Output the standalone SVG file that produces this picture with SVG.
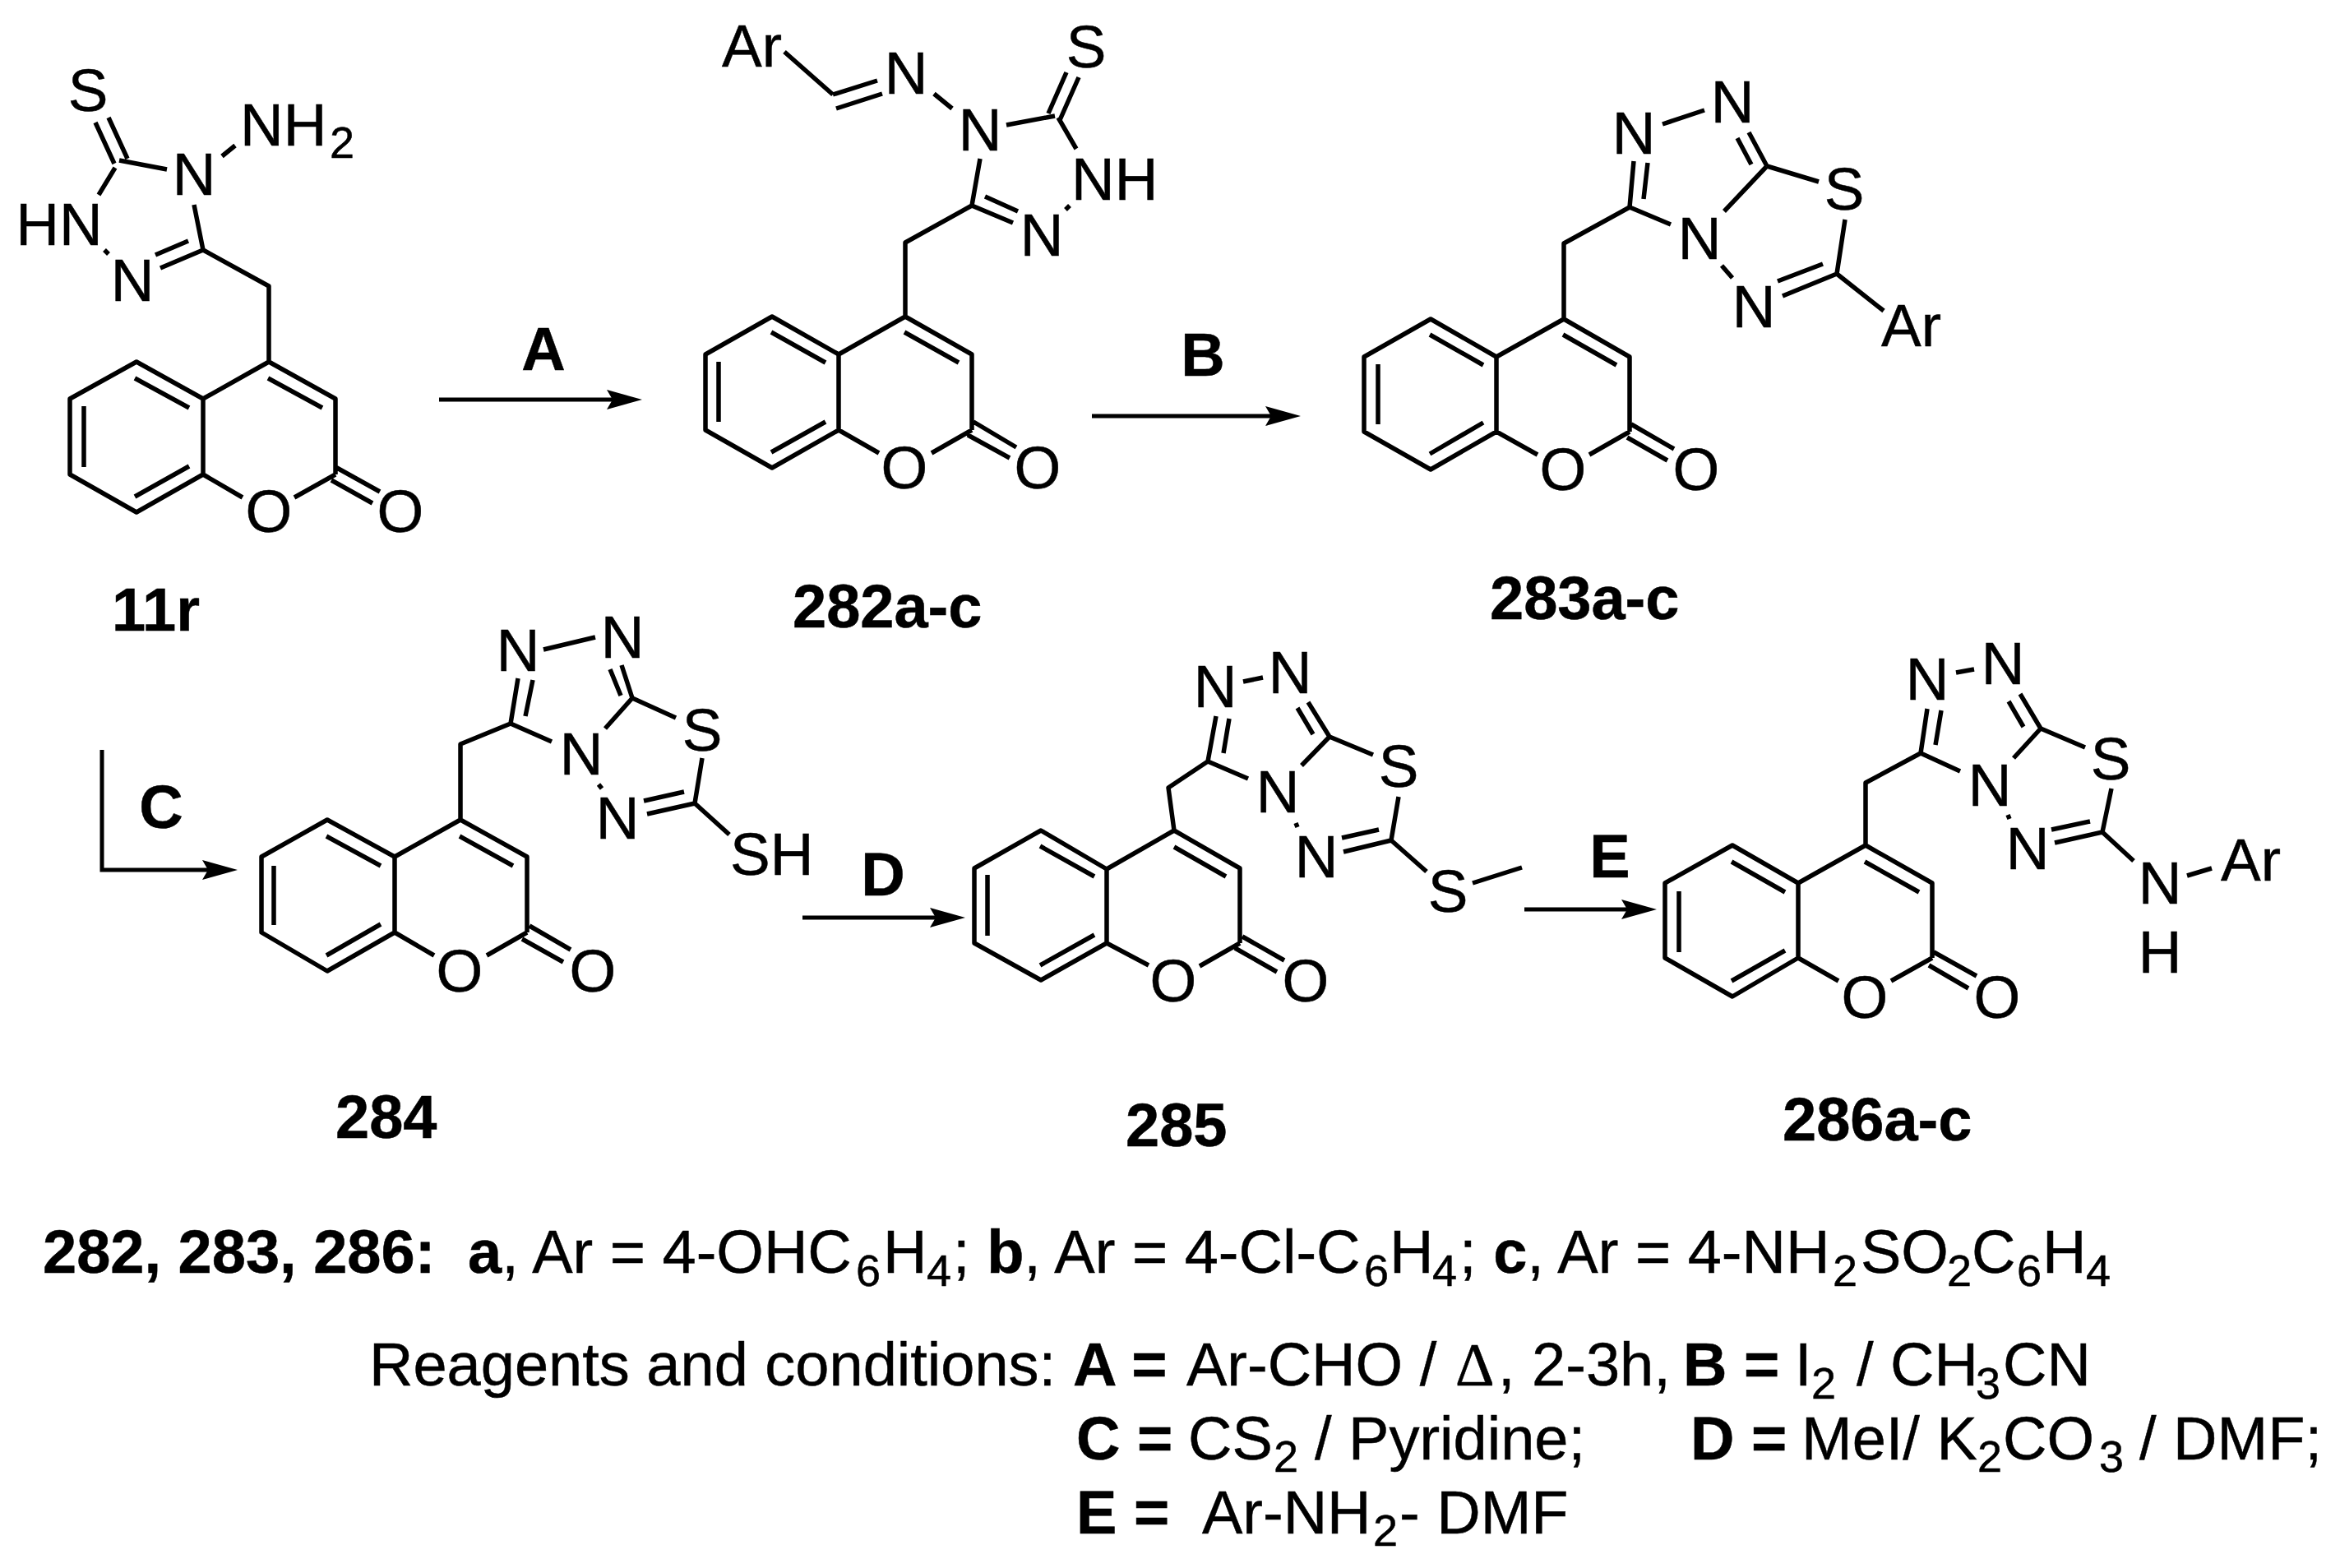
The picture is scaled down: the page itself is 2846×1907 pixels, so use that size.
<svg xmlns="http://www.w3.org/2000/svg" width="2846" height="1907" viewBox="0 0 2846 1907">
<style>
.b{fill:none;stroke:#000;stroke-width:5.5;stroke-linejoin:round;stroke-linecap:butt}
.arrow{fill:none;stroke:#000;stroke-width:5;marker-end:url(#head)}
text{font-family:"Liberation Sans",Arial,sans-serif;fill:#000;stroke:#000;stroke-width:.5}
.a{font-size:73px;text-anchor:middle}
.as{font-size:73px}
.sub{font-size:54px}
.lab{font-size:74px;font-weight:bold}
.r{font-size:74px}
.bd{font-weight:bold}
.d{font-family:"Liberation Serif",serif}
</style>
<defs>
<marker id="head" markerUnits="userSpaceOnUse" markerWidth="44" markerHeight="26" viewBox="0 0 43 26" refX="7" refY="13" orient="auto"><path d="M0 1L43 13L0 25L7 13Z" fill="#000"/></marker>
</defs>
<rect width="2846" height="1907" fill="#fff"/>
<g id="connectors">
<path class="arrow" d="M534 486H745"/>
<path class="arrow" d="M1328 506H1546"/>
<path class="arrow" d="M124 912V1058H253"/>
<path class="arrow" d="M976 1116H1138"/>
<path class="arrow" d="M1854 1106H1979"/>
</g>
<g id="reagent-labels">
<text class="lab" text-anchor="middle" x="661" y="450">A</text>
<text class="lab" text-anchor="middle" x="1463" y="457">B</text>
<text class="lab" text-anchor="middle" x="196" y="1007">C</text>
<text class="lab" text-anchor="middle" x="1074" y="1089">D</text>
<text class="lab" text-anchor="middle" x="1958" y="1067">E</text>
</g>
<g id="mol-11r">
<path class="b" d="M166 440L247 485V577L166 623L85 577V485ZM247 485L327 440L408 485V577M247 577L295 605M358 605L408 577M408 568L462 598M403 584L453 612M164 460L230 496M102 494V568M164 604L230 567M326 460L392 496M327 440V348L247 304L236 249M247 304L195 326M229 293L189 310M127 304L132 309M140 204L120 237M145 195L203 206M116 149L139 199M132 143L155 193M270 190L286 177"/>
<text class="a" x="327" y="647">O</text><text class="a" x="487" y="647">O</text>
<text class="a" x="236" y="237">N</text><text class="a" x="161" y="366">N</text>
<text class="a" x="72" y="298">HN</text><text class="a" x="107" y="135">S</text>
<text class="as" x="292" y="177">NH<tspan class="sub" x="401" y="192">2</tspan></text>
<text class="lab" x="136" y="767">11r</text>
</g>
<g id="mol-282">
<path class="b" d="M939 385L1020 431V523L939 569L858 523V431ZM1020 431L1101 385L1182 431V523M1020 523L1069 551M1133 551L1182 523M1184 513L1236 544M1177 529L1228 557M938 404L1004 441M874 440V513M938 550L1004 513M1100 404L1166 441M1101 385V295L1182 250L1192 193M1182 250L1232 271M1198 239L1238 257M1296 255L1301 250M1287 143L1309 181M1224 152L1283 141M1297 88L1275 138M1312 94L1289 146M1136 114L1158 132M1013 115L1067 98M1017 132L1073 114M954 63L1013 115"/>
<text class="a" x="1100" y="594">O</text><text class="a" x="1262" y="594">O</text>
<text class="a" x="1267" y="311">N</text><text class="as" x="1303" y="243">NH</text>
<text class="a" x="1321" y="82">S</text><text class="a" x="1192" y="183">N</text>
<text class="a" x="1102" y="114">N</text><text class="as" x="878" y="81">Ar</text>
<text class="lab" x="964" y="763">282a-c</text>
</g>
<g id="mol-283">
<path class="b" d="M1740 388L1820 434V525L1740 571L1659 525V434ZM1820 434L1902 388L1982 434V525M1820 525L1870 553M1933 553L1982 525M1984 516L2036 546M1979 532L2028 560M1739 407L1804 444M1676 443V516M1739 552L1804 514M1901 407L1966 444M1902 388V296L1982 252L1987 196M1999 242L2004 198M1982 252L2032 273M2022 151L2073 134M2149 202L2127 161M2130 200L2113 168M2149 202L2212 221M2149 202L2097 257M2094 323L2107 338M2244 267L2234 333L2168 360M2217 321L2162 342M2234 333L2291 378"/>
<text class="a" x="1901" y="596">O</text><text class="a" x="2063" y="596">O</text>
<text class="a" x="1987" y="187">N</text><text class="a" x="2107" y="149">N</text>
<text class="a" x="2243" y="255">S</text><text class="a" x="2067" y="315">N</text>
<text class="a" x="2133" y="398">N</text><text class="as" x="2288" y="421">Ar</text>
<text class="lab" x="1812" y="753">283a-c</text>
</g>
<g id="mol-284">
<path class="b" d="M398 997L480 1042V1134L398 1181L318 1134V1042ZM480 1042L560 997L641 1042V1134M480 1134L528 1162M592 1162L641 1134M644 1126L694 1155M635 1142L685 1170M397 1017L463 1053M333 1053V1125M397 1162L463 1124M559 1017L624 1053M560 997V905L621 880L630 825M639 871L648 827M621 880L671 902M661 790L724 775M769 849L756 809M755 846L742 814M769 849L822 873M769 849L736 886M728 954L732 959M854 922L845 977L787 990M832 963L783 974M845 977L887 1015"/>
<text class="a" x="559" y="1206">O</text><text class="a" x="721" y="1206">O</text>
<text class="a" x="630" y="816">N</text><text class="a" x="757" y="800">N</text>
<text class="a" x="854" y="913">S</text><text class="a" x="707" y="942">N</text>
<text class="a" x="751" y="1020">N</text><text class="as" x="888" y="1064">SH</text>
<text class="lab" x="408" y="1384">284</text>
</g>
<g id="mol-285">
<path class="b" d="M1266 1010L1346 1057V1147L1266 1192L1185 1147V1056ZM1346 1057L1428 1010L1508 1056V1147M1346 1147L1397 1174M1459 1175L1508 1147M1511 1139L1562 1168M1502 1153L1553 1182M1265 1029L1331 1066M1201 1064V1138M1265 1174L1331 1137M1428 1030L1491 1066M1428 1010L1421 958L1469 926L1479 871M1488 916L1495 874M1469 926L1518 947M1512 829L1536 824M1617 896L1591 854M1597 893L1578 861M1617 896L1670 918M1617 896L1583 931M1576 1001L1578 1006M1701 969L1692 1022L1634 1036M1677 1009L1632 1019M1692 1022L1735 1060M1791 1074L1851 1055"/>
<text class="a" x="1427" y="1218">O</text><text class="a" x="1588" y="1218">O</text>
<text class="a" x="1478" y="860">N</text><text class="a" x="1569" y="843">N</text>
<text class="a" x="1701" y="957">S</text><text class="a" x="1554" y="988">N</text>
<text class="a" x="1601" y="1067">N</text><text class="a" x="1761" y="1109">S</text>
<text class="lab" x="1369" y="1394">285</text>
</g>
<g id="mol-286">
<path class="b" d="M2107 1028L2187 1074V1165L2107 1212L2025 1165V1074ZM2187 1074L2269 1028L2350 1074V1165M2187 1165L2236 1193M2300 1193L2350 1165M2352 1158L2404 1187M2346 1174L2394 1202M2106 1048L2171 1085M2042 1084V1158M2106 1193L2171 1156M2268 1048L2334 1085M2269 1028V952L2336 916L2344 862M2354 906L2361 864M2336 916L2384 938M2379 818L2401 814M2482 886L2457 844M2461 884L2443 853M2482 886L2536 909M2482 886L2449 922M2442 991L2444 996M2568 959L2557 1012L2499 1025M2542 999L2495 1009M2557 1012L2595 1047M2660 1065L2690 1056"/>
<text class="a" x="2268" y="1238">O</text><text class="a" x="2429" y="1238">O</text>
<text class="a" x="2344" y="851">N</text><text class="a" x="2436" y="832">N</text>
<text class="a" x="2567" y="948">S</text><text class="a" x="2420" y="980">N</text>
<text class="a" x="2466" y="1057">N</text><text class="a" x="2627" y="1099">N</text>
<text class="a" x="2627" y="1183">H</text><text class="as" x="2701" y="1071">Ar</text>
<text class="lab" x="2168" y="1387">286a-c</text>
</g>
<g id="legend">
<text class="r" y="1548"><tspan class="bd" x="52" y="1548">282, 283, 286:</tspan><tspan class="bd" x="569">a</tspan><tspan>, Ar = 4-OHC</tspan><tspan class="sub" x="1041" y="1564">6</tspan><tspan x="1074" y="1548">H</tspan><tspan class="sub" x="1127" y="1564">4</tspan><tspan x="1159" y="1548">; </tspan><tspan class="bd">b</tspan><tspan>, Ar = 4-Cl-C</tspan><tspan class="sub" x="1659" y="1564">6</tspan><tspan x="1690" y="1548">H</tspan><tspan class="sub" x="1742" y="1564">4</tspan><tspan x="1775" y="1548">; </tspan><tspan class="bd">c</tspan><tspan>, Ar = 4-NH</tspan><tspan class="sub" x="2229" y="1564">2</tspan><tspan x="2263" y="1548">SO</tspan><tspan class="sub" x="2368" y="1564">2</tspan><tspan x="2398" y="1548">C</tspan><tspan class="sub" x="2453" y="1564">6</tspan><tspan x="2484" y="1548">H</tspan><tspan class="sub" x="2537" y="1564">4</tspan></text>
<text class="r" y="1685"><tspan x="449" y="1685">Reagents and conditions:</tspan><tspan class="bd" x="1305">A =</tspan><tspan x="1443">Ar-CHO /</tspan><tspan class="d" x="1770">Δ</tspan><tspan x="1822">, 2-3h,</tspan><tspan class="bd" x="2047">B =</tspan><tspan x="2183">I</tspan><tspan class="sub" x="2203" y="1701">2</tspan><tspan x="2258" y="1685">/ CH</tspan><tspan class="sub" x="2403" y="1701">3</tspan><tspan x="2436" y="1685">CN</tspan></text>
<text class="r" y="1775"><tspan class="bd" x="1309" y="1775">C =</tspan><tspan x="1445">CS</tspan><tspan class="sub" x="1549" y="1790">2</tspan><tspan x="1599" y="1775">/ Pyridine;</tspan><tspan class="bd" x="2056">D =</tspan><tspan x="2191">MeI/ K</tspan><tspan class="sub" x="2405" y="1790">2</tspan><tspan x="2436" y="1775">CO</tspan><tspan class="sub" x="2553" y="1790">3</tspan><tspan x="2602" y="1775">/ DMF;</tspan></text>
<text class="r" y="1865"><tspan class="bd" x="1309" y="1865">E =</tspan><tspan x="1462">Ar-NH</tspan><tspan class="sub" x="1670" y="1880">2</tspan><tspan x="1702" y="1865">- DMF</tspan></text>
</g>
</svg>
